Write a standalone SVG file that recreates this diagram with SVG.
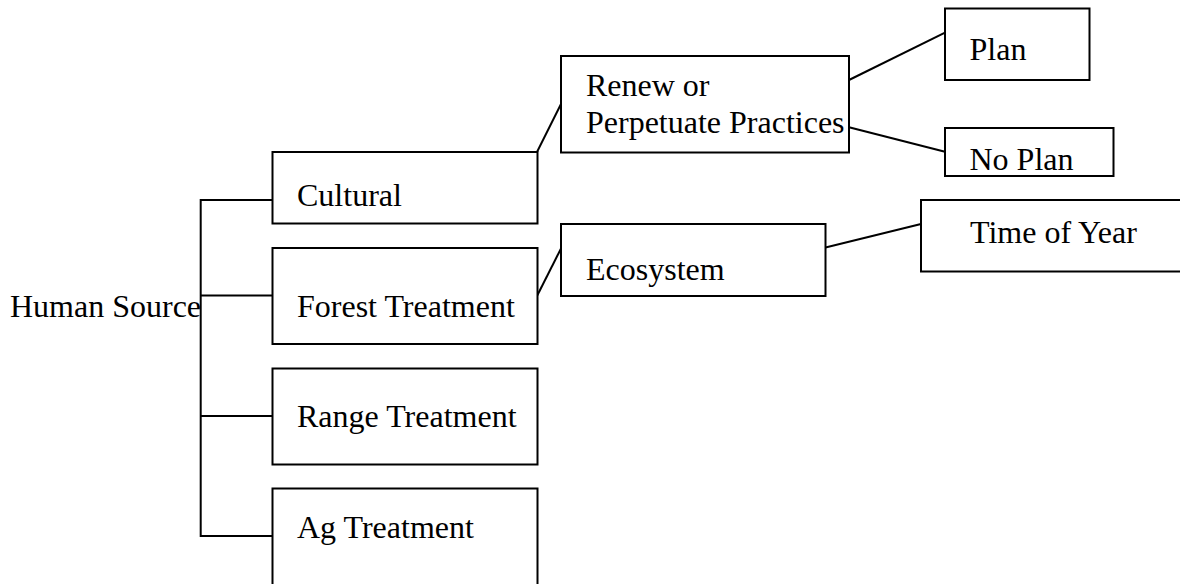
<svg xmlns="http://www.w3.org/2000/svg" width="1180" height="584" viewBox="0 0 1180 584">
<style>
.box{fill:#fff;stroke:#000;stroke-width:2}
.ln{fill:none;stroke:#000;stroke-width:2}
text{font-family:"Liberation Serif","Times New Roman",serif;font-size:32px;fill:#000}
</style>
<rect width="1180" height="584" fill="#fff"/>
<g id="connectors">
<path class="ln" d="M272.5 200 H200.7 V536 H272.5 M200.7 295.5 H272.5 M200.7 416 H272.5"/>
<line class="ln" x1="537" y1="152" x2="561" y2="104"/>
<line class="ln" x1="537" y1="296" x2="561" y2="248.5"/>
<line class="ln" x1="849" y1="80" x2="945" y2="32.7"/>
<line class="ln" x1="849" y1="127.3" x2="945" y2="151.7"/>
<line class="ln" x1="825.5" y1="247.5" x2="921" y2="224"/>
</g>
<g id="human-source"><text x="10" y="317">Human Source</text></g>
<g id="cultural"><rect class="box" x="272.5" y="152" width="265" height="71.5"/><text x="297" y="206">Cultural</text></g>
<g id="forest"><rect class="box" x="272.5" y="248" width="265" height="96"/><text x="297" y="317">Forest Treatment</text></g>
<g id="range"><rect class="box" x="272.5" y="368.5" width="265" height="96"/><text x="297" y="427">Range Treatment</text></g>
<g id="ag"><rect class="box" x="272.5" y="488.5" width="265" height="110"/><text x="297" y="538">Ag Treatment</text></g>
<g id="renew"><rect class="box" x="561" y="56" width="288" height="96.5"/><text x="586" y="96">Renew or</text><text x="586" y="133">Perpetuate Practices</text></g>
<g id="ecosystem"><rect class="box" x="561" y="224" width="264.5" height="72"/><text x="586" y="280">Ecosystem</text></g>
<g id="plan"><rect class="box" x="945" y="8.5" width="144.5" height="71.5"/><text x="969.5" y="59.5">Plan</text></g>
<g id="no-plan"><rect class="box" x="945" y="128" width="168.5" height="48"/><text x="969.5" y="169.5">No Plan</text></g>
<g id="time-of-year"><rect class="box" x="921" y="200" width="270" height="71.5"/><text x="970" y="242.5">Time of Year</text></g>
</svg>
